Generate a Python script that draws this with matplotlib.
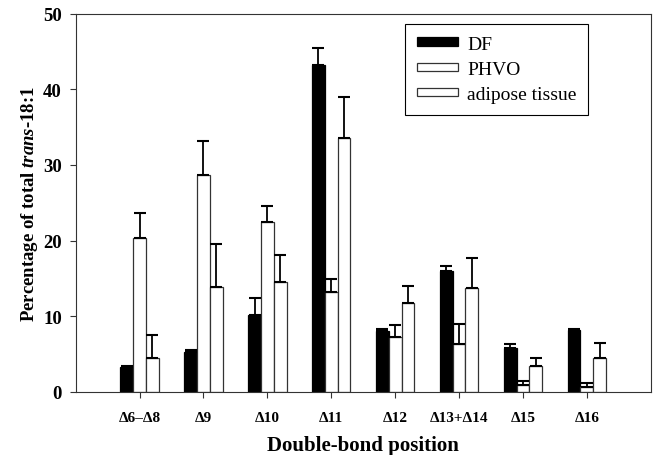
import matplotlib
matplotlib.use("Agg")
import matplotlib.pyplot as plt
import numpy as np

plt.rcParams['font.family'] = ['Liberation Serif', 'DejaVu Serif']
plt.rcParams['mathtext.fontset'] = 'custom'
plt.rcParams['mathtext.it'] = 'Liberation Serif:italic:bold'
plt.rcParams['mathtext.rm'] = 'Liberation Serif:bold'
plt.rcParams['mathtext.bf'] = 'Liberation Serif:bold'

categories = ['\u03946\u2013\u03948', '\u03949', '\u039410', '\u039411', '\u039412',
              '\u039413+\u039414', '\u039415', '\u039416']
series_names = ['DF', 'PHVO', 'adipose tissue']
df_vals = [3.3, 5.25, 10.1, 43.2, 8.0, 16.0, 5.8, 8.2]
df_err = [0.15, 0.25, 2.3, 2.3, 0.25, 0.6, 0.5, 0.1]
phvo_vals = [20.3, 28.6, 22.5, 13.2, 7.2, 6.3, 0.85, 0.66]
phvo_err = [3.4, 4.5, 2.0, 1.7, 1.6, 2.6, 0.6, 0.55]
adip_vals = [4.5, 13.8, 14.5, 33.5, 11.7, 13.7, 3.35, 4.4]
adip_err = [3.0, 5.7, 3.6, 5.5, 2.3, 4.0, 1.15, 2.05]
y_ticks = [0, 10, 20, 30, 40, 50]

fig = plt.figure(figsize=(6.6, 4.56), dpi=100)
ax = fig.add_axes([75.7/660, 1-392.7/456, (650.7-75.7)/660, (392.7-14.7)/456])

x = np.arange(1, len(categories)+1)
w = 0.2
specs = [
    (df_vals, df_err, -w, 'black', 'black'),
    (phvo_vals, phvo_err, 0.0, 'white', '#333333'),
    (adip_vals, adip_err, w, 'white', '#333333'),
]
handles = []
for (vals, errs, off, fc, ec), name in zip(specs, series_names):
    b = ax.bar(x + off, vals, width=w, color=fc, edgecolor=ec, linewidth=0.9,
               label=name, zorder=2)
    handles.append(b)
    ax.errorbar(x + off, vals, yerr=[np.zeros(len(vals)), errs], fmt='none',
                ecolor='black', elinewidth=1.3, capsize=4, capthick=1.5, zorder=3)

ax.set_xlim(0, 9)
ax.set_ylim(0, 50)
ax.set_yticks(y_ticks)
ax.set_xticks(x)
ax.set_xticklabels(categories, fontsize=11, fontweight='bold')
for lab in ax.get_yticklabels():
    lab.set_fontsize(13.5)
    lab.set_fontweight('bold')
ax.tick_params(axis='both', direction='out', length=4, width=0.8, color='#333333')
ax.tick_params(axis='x', pad=10)
ax.tick_params(axis='y', pad=6)
for s in ax.spines.values():
    s.set_linewidth(0.8)
    s.set_color('#333333')

ax.set_xlabel('Double-bond position', fontsize=15, fontweight='bold', labelpad=8)
ax.set_ylabel('Percentage of total $\\mathit{trans}$-18:1', fontsize=13.5,
              fontweight='bold', labelpad=2)

leg = ax.legend(handles=handles, loc='upper left',
                bbox_to_anchor=(405/660, 1-25/456), bbox_transform=fig.transFigure,
                borderaxespad=0, fontsize=14, frameon=True, fancybox=False,
                framealpha=1, edgecolor='black', handlelength=2.1,
                handleheight=0.3, handletextpad=0.5, labelspacing=0.42,
                borderpad=0.6)
leg.get_frame().set_linewidth(0.8)

fig.savefig('out.png', dpi=100)
